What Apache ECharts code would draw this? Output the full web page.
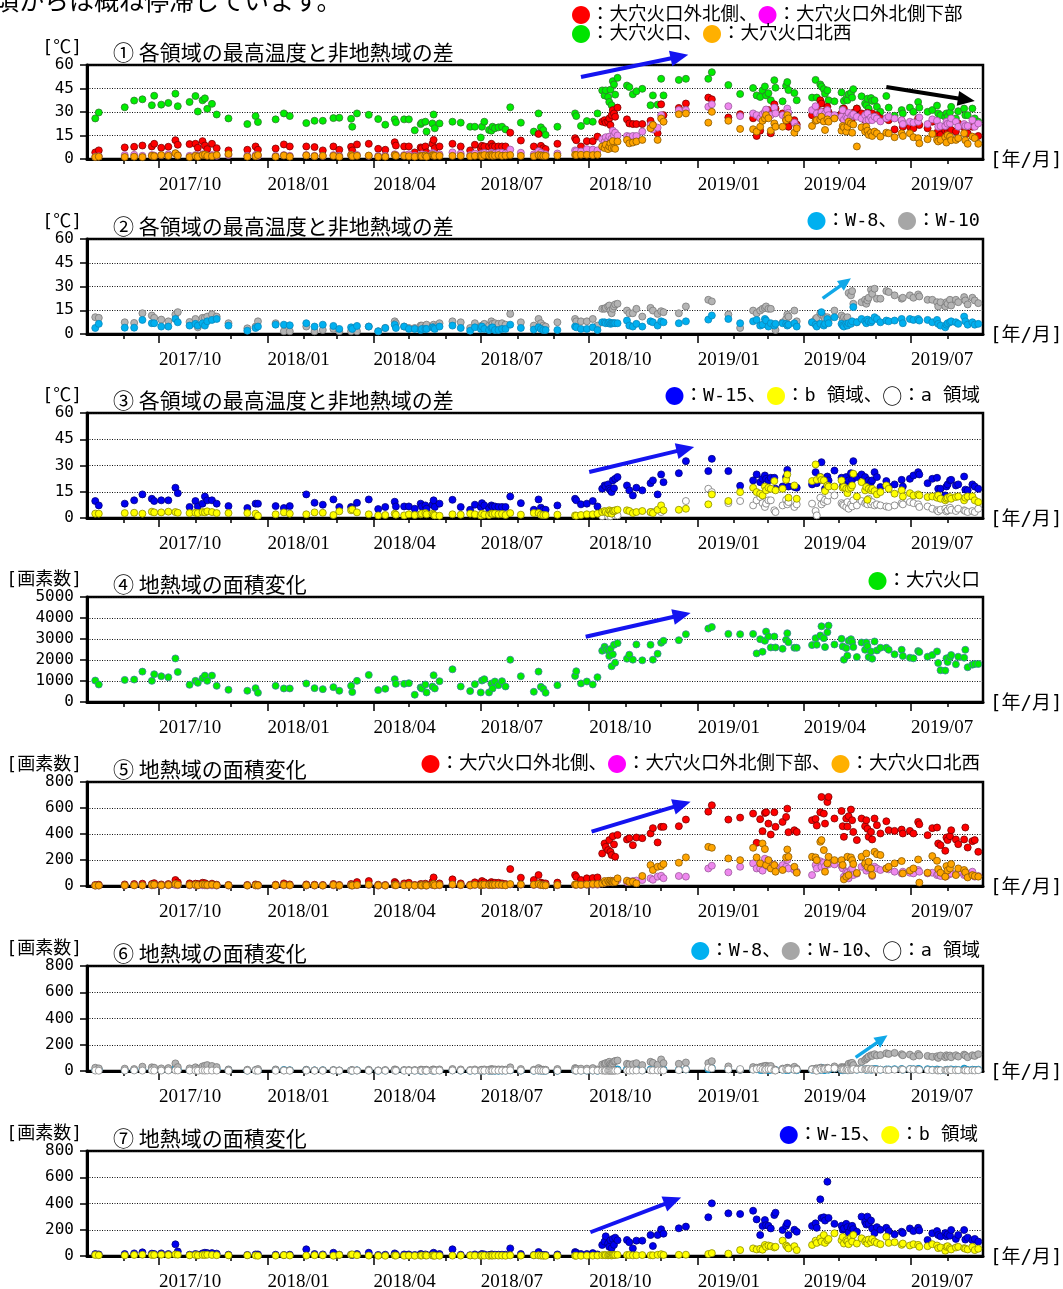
<!DOCTYPE html>
<html><head><meta charset="utf-8">
<script src="https://cdn.jsdelivr.net/npm/echarts@6/dist/echarts.min.js"></script>
<style>html,body{margin:0;padding:0;background:#fff}#c{width:1063px;height:1289px}</style>
</head><body><div id="c"></div>
<script>
const N = null;
// observation days, counted from 2017-08-01
const days = [7,10,32,40,47,55,57,63,69,75,
 77,87,92,94,98,100,102,106,110,120,
 136,143,145,160,167,172,186,193,200,209,
 214,224,225,229,239,247,253,261,262,269,
 273,278,283,284,287,288,293,294,295,299,
 310,317,325,329,334,335,337,341,343,344,
 346,349,352,355,359,368,379,383,385,387,
 389,399,414,415,419,424,429,433,437,439,
 440,442,443,444,445,446,447,448,450,458,
 460,463,466,471,478,480,484,487,489,502,
 508,527,530,544,554,565,568,571,573,575,
 576,578,580,583,584,590,593,594,595,600,
 602,615,618,619,622,623,625,626,628,629,
 634,640,641,642,644,645,646,648,649,650,
 653,657,660,661,662,663,665,666,668,670,
 673,678,680,685,691,692,698,701,705,706,
 713,717,721,722,724,728,729,730,732,733,
 737,739,744,745,747,751,753,756];

// ① temperature difference [℃]
const tempRed = [4.2,5.5,7.4,7.8,8.6,8,9.7,7.2,7.8,12,
 9.1,9.5,9.7,7.2,11.4,8.6,6.3,9.7,6.9,5.5,
 5.9,8,5.9,6.7,9.3,8,8,7.6,5.5,8,
 5.9,7.8,5.5,9.3,9.7,6.5,5.9,10.7,8.6,8,
 8,4.2,7.4,6.9,8,4.2,9.7,12.2,6.9,8,
 9.7,8,5.5,9.1,6.9,8.4,8,8,9.7,8,
 8,8,8,8,16.8,11.8,8,16,8.4,6.9,
 6.3,9.7,13.3,12,8,11.4,11.4,14.3,23.8,24.8,
 23.2,23.8,25.9,21.7,28,31.2,29.1,27,32.8,25.3,
 22.7,22.3,22.3,22.3,24.4,21.7,16.4,34.9,28,32.6,
 35.4,39.2,38.1,26.5,28.6,26,14.7,18.1,27,28,
 30,31.2,16.4,34.9,32.2,29.1,25,22.3,20.6,24.8,
 22,28,30.1,32.6,37.5,35.4,30.1,28,33.3,30,
 26.5,29.1,25.9,32.2,28,29.1,27,28,26,29.5,
 32.2,29.1,24.8,27,29.5,25,26.9,29.1,27,28,
 25.9,25.9,24.8,18.9,24.4,20.6,20.6,19.6,25.9,21.7,
 19.6,23.8,16.4,18,15.4,18.1,20.6,17,19,18.5,
 17.5,22.7,20.6,19,16.4,20.6,21.1,14.7];
const tempPink = [1.5,1.7,2.5,2.7,2,2.5,2.2,2.5,3,3.5,
 2.5,2,2.5,2,3,2.7,2.2,2.5,2,2.5,
 2,2.5,2,2,2.5,2,2.5,2,2,2.5,
 2,2.5,2,2.5,2,2,2,3,2.5,2.5,
 3,2,2.5,3,2.5,2,3.8,3.5,2.5,3,
 4.2,3.5,2.5,3.5,2.5,3.5,3.8,3,4,3.5,
 3.5,4,4,3.5,6,4,3,5,4,3,
 3,3.5,5.5,5,4.8,6.3,6,5.5,12.6,11,
 13.9,12,14.3,11,13,18.1,15,16.8,15,14.7,
 14.3,14.7,14.7,17.5,21.7,18.9,20,28,24,31.2,
 31.2,33.3,34.9,33.7,27.4,29.1,28,26,28.6,30,
 31.6,27,28,32.8,29.1,28,27,32.2,29.5,23.2,
 20.6,31.2,33.7,29.1,28,30,26.5,29,31.2,28,
 28,27,31.2,25,27,26,29.5,27,28,28.6,
 27,25.9,28,24.4,29.1,24.8,26.5,24.8,27,25.9,
 24,26,27,25.9,24.8,22.3,23.8,23.2,23.8,26.5,
 22.3,25.3,24.4,20.6,21,21.1,23.8,22.5,22.7,25.9,
 23.8,20.6,22.3,21,21.1,24.8,20.6,22.7];
const tempGreen = [25.9,29.7,33,37.3,38.1,34.3,40.4,34.7,35.8,41.7,
 33.7,36.4,40.2,30.3,37.5,38.7,32,35.2,28.4,25.9,
 22.3,27.4,23.6,25.3,29.1,27.4,22.9,24.4,24.4,26.1,
 26.3,25.7,20.6,29.1,28.2,25.5,21.9,25.3,23.4,25.3,
 25.3,18.3,22.3,23.2,23.8,17.5,22.7,28.4,19.6,22.7,
 23.8,23.2,20.6,20.6,13.7,20.6,23.8,18.5,18.1,20.6,
 19.6,20.2,20.6,18.9,33,23.2,17.5,29.1,20.2,18.5,
 15.4,20.6,29.1,27.4,21.1,24.2,23.8,29.1,43.8,40.6,
 43.8,39.6,36.4,44.2,34.3,49.7,47.6,41.1,51.8,46.9,
 45.9,41.3,43.2,44.8,34.3,40.6,34.7,51.2,40.6,50.5,
 51.2,51.2,55.4,47.2,41.5,45.3,40.6,39.6,43.8,46.3,
 40.6,42,37.5,50.3,45.5,36.8,46.7,49.1,44,42.1,
 37.5,39.2,50.5,39.2,47.6,46.3,44.6,41.7,43.8,37.5,
 36.8,42.5,32.2,37.1,38.5,37.5,41.3,42.1,39.2,44.6,
 32.2,40,35.4,34.3,38.5,32.2,38.9,37.1,37.5,33.3,
 30.1,40.2,32.8,27.6,31.2,29.1,32.8,30.1,36.4,32.8,
 30.1,31.2,34.1,29.1,28,26.9,29.1,27,29.7,33.3,
 25.9,30.5,32.2,28,28,32.2,25.9,23.8];
const tempOrange = [1.2,1.5,1.3,1.5,1.2,2,1.8,2.5,2,3.7,
 2.2,1.2,2,1.5,2.5,2.8,2,1.8,2.5,3.2,
 1.5,1.8,2.5,1.5,2.2,1.5,2.3,1.8,2,2,
 1.5,2.5,1.8,2,2.2,1.5,1.5,2.5,2,2,
 1.8,1.5,2,1.8,2.2,1.5,2.5,2.2,2,2,
 2,2,1.8,2,2.2,1.8,2.5,2.2,2.5,2,
 2.2,2.5,2,2.2,2.5,2,1.8,2.5,2.2,2,
 2,2.3,2.7,2.5,2.7,2.7,2.5,2.7,8,7,
 9.1,6.3,8,10,7,11.4,7,6.5,11.2,12.2,
 10,10.5,11.2,12.2,19.6,21.7,12.2,25.9,23.8,28.6,
 29.1,23.2,30.1,24.4,19.2,19,17.5,20.6,24.4,25.9,
 28,26,18.1,22.7,20.6,20.6,24.8,28,25.9,16.8,
 19.6,21.1,24.4,24.8,25.3,27,24,18.5,25.3,23.8,
 25.9,18.1,21.1,20.2,17.5,20.6,23.8,22.7,16.8,22,
 8,20.2,17.5,20.6,18.1,15.4,16.8,14.7,17.5,16.4,
 14.3,16.8,16.4,13.9,16.4,14.7,16.4,13.9,13.3,10,
 12.6,16,12.2,11.2,12.2,13.9,10.5,15.2,14.3,12,
 12.2,13.3,16.4,12,9.7,14.3,13.3,9.7];

// ② temperature difference [℃]
const tempW8 = [3.8,6.4,4,4,8.9,6.8,6.8,4.7,4.7,9.5,
 7.4,5.3,6.4,5.3,6.8,5.3,8,8.9,9.5,5.3,
 2.1,3.8,4.7,5.9,5.9,5.5,6.8,4.7,5.9,5.1,
 3.2,4.2,3.2,5.1,4.7,1.7,3.8,5.9,3.8,4.7,
 3.2,3.2,2.5,3.2,3.2,3.2,4.2,3.8,3.2,4.7,
 5.3,3.8,2.1,4.2,3.2,4.7,3.2,2.5,3.8,4.2,
 2.5,2.5,3.2,3.2,5.9,3.8,2.8,4.2,3.2,2.5,
 2.5,2.5,4.7,4.2,3.2,3.2,4.2,2.5,7.4,7.4,
 6.8,6.8,7.4,6.4,6.8,6.8,6.8,6.8,6.8,8.5,
 5.3,4.7,6.4,4.7,8,7.4,5.3,8,7.4,6.8,
 8,9.1,11.7,9.5,6.8,8,8.9,5.3,5.9,9.5,
 8.5,4.7,6.8,5.3,6.4,6.8,6.4,5.3,5.9,6.8,
 4.7,7.4,5.9,4.7,6.4,13.8,5.3,6.4,9.5,6.8,
 10.6,6.4,5.3,4.7,6.4,5.3,6.8,6.4,8,17,
 7.4,9.5,8,6.8,9.1,8,7.4,8.5,10.6,9.5,
 7.4,8.5,8,8.5,9.5,6.8,9.5,8.9,9.5,8.5,
 8.9,7.4,8.9,6.4,5.3,4.2,5.9,6.8,7.4,8,
 7.4,6.4,11,8,5.9,7.4,5.9,6.4];
const tempW10 = [10.6,10.2,7.4,7,13.1,11.7,10.2,9.1,8,12.3,
 13.8,7.6,9.5,4.2,10.2,10.2,11,12.5,11,6.8,
 3.6,4.7,8,6.8,1.7,1.7,4.7,1.7,2.5,3.2,
 1.7,1.7,3.8,1.7,4.7,1.7,3.8,8,6.8,4.7,
 3.8,3.8,5.3,5.3,4.7,5.9,4.7,5.9,4.7,6.8,
 8,7.4,3.8,6.8,4.7,5.3,6.4,5.3,8,6.4,
 6.8,6.4,6.8,5.9,12.7,7.4,5.3,9.5,6.8,5.3,
 4.7,7.4,9.5,8,8,8,9.5,5.3,15.9,15.9,
 16.5,17.4,18,14.8,13.1,15.9,17.4,18.7,19.1,14.8,
 13.1,13.1,15.9,11,16.5,14.8,12.7,14.4,13.8,13.1,
 17.4,21.6,20.6,12.3,3.8,14.8,13.1,14.8,15.9,16.5,
 17.4,15.9,15.9,5.3,2.5,7.4,9.5,12.3,11,14.8,
 8,7.4,9.5,10.2,13.1,12.3,11,9.5,10.6,8.5,
 14.8,11.7,9,10.6,9.5,10.6,25.9,24.4,27.1,19.1,
 7.4,20.1,21.6,19.1,21.2,22.9,28,25.4,28.6,22.3,
 22.3,27.1,26.5,24.4,22.3,22.9,24.4,22.9,25,23.7,
 21.6,21.6,20.1,17.4,20.1,17.4,20.1,19.1,21.6,18,
 21.6,20.1,23.3,21.2,18.7,22.9,21.2,19.5];

// ③ temperature difference [℃]
const tempW15 = [9.7,7.2,8.2,10.1,13.5,11,9.7,10.1,10.1,17.3,
 14.2,6.3,9.7,6.6,8.2,12.3,10.1,10.1,8.2,6.8,
 5.7,8.2,8.2,6.8,5.7,6.8,13.5,8.7,7.6,10.6,
 6.3,6.3,5.7,8.7,10.6,5.1,6.3,9.3,6.6,6.6,
 6.6,5.3,8.2,6.6,7.2,5.3,7.6,10.1,6.3,8.2,
 10.4,6.3,4.7,7.6,6.3,8.5,7.2,5.3,7.2,6.6,
 6.6,6.3,6.3,6.3,12.3,8.5,4.7,10.6,5.9,4.7,
 4.7,7.2,11,10.1,7.8,8.2,9.7,6.6,16.7,18.6,
 18,19.2,16.7,15.8,14.8,21.5,17,22.4,23.4,18.6,
 15.8,12.9,17.3,15.8,19.9,21.5,13.5,24.9,20.5,25.6,
 32.5,26.8,33.8,26.8,18.4,21.5,24.9,20.5,22.4,24.3,
 22.4,21.5,23,23,16.7,18,23.4,27.5,18,17.7,
 17.3,19.2,26.2,19.9,23.4,31.9,21.5,16.7,23.7,21.5,
 27.1,23,18,21.5,23.4,19.6,21.5,25.6,21.8,32.5,
 23.4,24.9,23.4,20.5,19.6,21.5,20.5,21.5,26.2,23.4,
 17.7,21.1,18,19.2,21.8,18,22.4,24.3,26.2,24.9,
 19.9,22.4,23,16.7,16.7,12.9,18,19.2,21.5,21.8,
 18.6,19.2,23.7,16.2,15.8,19.2,18,16.7];
const tempB = [2.5,2.5,2.8,3,2.5,3.6,3.2,3.2,3.6,3.4,
 3,2.8,3,2.8,3.4,3.2,3.8,3.4,2.8,2.8,
 2.8,2.5,1.3,2.1,3.2,2.5,2.1,3.2,3,1.7,
 3.8,4.4,4.9,3.2,2.1,1.5,1.7,2.5,1.9,1.5,
 2.1,1.7,2.1,2.5,2.8,2.1,2.5,1.9,1.5,1.3,
 2.1,1.9,2.5,2.1,1.5,2.5,1.9,1.7,2.5,2.3,
 2.5,2.1,2.3,1.7,2.8,1.9,2.8,2.8,1.9,1.7,
 1.7,1.9,1.5,1.3,1.7,2.1,2.1,2.5,3.4,4,
 3.4,2.8,4.4,3.8,2.5,4,3.8,4.4,4.7,4.4,
 4,2.8,3.4,4,3.4,2.8,4.7,7.2,4.4,4.7,
 5.3,7.8,13.5,9.7,14.8,17.3,14.8,13.9,12.9,18,
 15.8,17.3,16.7,21.1,15.8,16.7,21.8,24.9,11.6,18.6,
 11,21.1,30.6,21.8,23.4,21.8,21.5,15.4,18.6,18,
 18,21.5,17.3,17.7,16.7,14.2,16.7,17.3,18.6,25.3,
 12.3,20.5,15.8,17.7,10.4,16.7,15.8,16.7,15.4,13.5,
 14.8,18.6,16.7,13.9,15.8,12.3,14.2,12.9,13.5,12.9,
 12,12.3,11.6,12.9,11,10.1,11,11.6,12,11,
 12,12.3,10.1,11.6,12.3,12.3,10.1,9.1];
const tempA = [N,N,N,N,N,N,N,N,N,N,
 N,N,N,N,N,N,N,N,N,N,
 N,N,N,N,N,N,N,N,N,N,
 N,N,N,N,N,N,N,N,N,N,
 N,N,N,N,N,N,N,N,N,N,
 N,N,N,N,N,N,N,N,N,N,
 N,N,N,N,N,N,N,N,N,N,
 N,N,N,N,N,N,N,N,1,N,
 N,1,N,1,N,N,N,1.5,1.5,N,
 N,N,N,N,3.4,3.4,N,3.4,N,N,
 9.7,16.7,14.8,8.5,9.7,7.2,10.1,12,8.5,6.3,
 8.2,10.1,10.1,4.4,3.4,7.2,10.4,7.8,9.1,6.3,
 7.8,8.2,4,1.5,11.6,7.8,9.1,10.4,9.7,12.9,
 12.9,8.5,7.8,7.2,6.3,9.1,5.3,7.8,6.6,10.1,
 7.2,9.7,8.5,9.1,7.8,11,7.8,9.1,7.2,7.8,
 7.2,6.6,6.3,7.2,8.5,7.8,9.1,8.5,7.8,6.3,
 6.6,5.3,4.4,3.8,4.7,5.3,3.8,4.4,5.9,4.7,
 4,5.3,4.4,4,3.4,4,3.4,5.3];

// ④ area [pixels]
const areaGreen = [1022,833,1053,1069,1447,1006,1321,1226,1179,2075,
 1431,818,1006,912,1132,1258,1006,1258,770,582,
 535,660,440,770,645,645,880,660,613,707,
 535,770,472,1006,1289,566,629,1085,865,865,
 896,346,692,645,833,456,739,1274,645,991,
 1557,739,519,849,456,1022,1085,456,880,645,
 975,802,991,739,2013,1226,487,1447,724,630,
 441,803,1244,1465,882,976,835,1181,2441,2630,
 2504,2457,2189,2520,1700,2268,2724,1874,2803,2063,
 2252,2016,2740,1984,2724,2016,2299,2819,2913,2945,
 3228,3496,3574,3244,3228,3244,2315,2992,2394,2913,
 3354,3118,2598,3118,2598,2535,2961,3276,2850,2583,
 2583,2709,3039,2724,3165,3606,3039,2614,3323,3638,
 2740,3008,2646,2016,2567,2205,2913,2992,2850,2614,
 2142,2835,2488,2835,2661,2142,2409,2063,2882,2457,
 2583,2583,2488,2268,2488,2189,2110,2079,2425,2378,
 2157,2236,2409,1858,1512,1496,2079,1906,2126,2236,
 1795,2157,2110,2488,1654,1779,1811,1811];

// ⑤ area [pixels]
const areaRed = [8,10,12,15,18,15,22,12,15,46,
 28,20,18,15,25,22,12,18,10,8,
 8,12,8,10,20,12,12,10,8,15,
 8,15,8,30,38,10,8,31,20,20,
 25,8,15,12,18,8,33,66,12,20,
 51,20,10,28,15,38,28,18,30,20,
 25,25,20,15,130,64,46,84,26,20,
 20,26,84,70,46,59,61,66,250,327,
 301,276,353,263,238,383,320,225,393,358,
 368,314,373,368,404,445,335,455,455,460,
 511,572,621,511,526,557,332,514,422,562,
 567,480,396,567,455,493,531,595,414,429,
 416,506,516,465,567,685,557,480,646,685,
 519,577,460,378,519,457,537,588,506,416,
 353,519,460,506,440,378,416,358,519,468,
 404,498,429,424,434,404,424,404,493,475,
 391,445,450,327,314,271,373,353,383,429,
 358,322,358,450,296,345,353,263];
const areaPink = [3,3,4,5,4,5,6,4,5,8,
 6,5,5,4,6,5,4,5,3,3,
 3,4,3,3,5,4,4,3,3,5,
 3,5,3,6,8,3,3,6,5,5,
 6,3,5,4,5,3,8,10,4,6,
 10,6,4,8,5,8,8,6,8,6,
 7,8,6,5,12,10,8,12,6,5,
 5,6,10,9,8,9,10,10,20,25,
 30,28,32,35,30,40,38,35,45,30,
 35,38,42,46,59,48,72,79,60,77,
 72,135,156,105,148,174,135,135,118,210,
 161,150,168,161,148,161,148,200,135,123,
 110,84,161,135,190,148,180,150,174,168,
 166,153,135,72,110,102,59,123,135,84,
 95,148,161,118,174,135,135,77,148,135,
 123,135,128,110,97,110,102,97,123,110,
 97,102,84,90,77,72,77,85,92,97,
 92,102,84,90,97,110,72,77];
const areaOrange = [3,4,5,6,5,8,10,6,8,15,
 10,8,10,6,12,10,8,10,6,5,
 4,6,5,5,8,6,6,5,4,8,
 4,6,4,8,10,5,4,8,6,6,
 8,4,6,5,8,4,10,15,6,8,
 12,8,5,10,6,10,10,8,10,8,
 10,10,8,6,15,12,10,15,8,6,
 6,8,12,10,10,12,15,15,20,38,
 26,40,30,41,33,28,36,30,59,41,
 30,33,20,77,161,123,148,153,169,179,
 220,301,294,212,199,294,220,174,327,284,
 161,199,135,161,110,123,220,281,225,148,
 102,225,220,199,340,353,276,110,174,225,
 199,199,161,51,72,225,84,220,199,169,
 100,225,174,250,148,187,135,84,263,245,
 238,135,148,174,192,97,118,135,204,26,
 102,230,194,130,102,72,153,120,135,169,
 84,135,123,105,66,84,77,72];

// ⑥ area [pixels]
const areaW8 = [8,12,8,8,15,12,12,8,8,18,
 12,8,10,8,12,10,12,15,15,8,
 3,5,6,8,8,6,8,5,6,5,
 3,4,3,5,5,2,3,6,4,4,
 3,3,2,3,3,3,4,4,3,5,
 5,3,2,4,3,4,3,2,3,4,
 2,2,3,3,6,3,2,4,3,2,
 2,2,5,4,3,3,4,2,10,12,
 10,10,12,10,10,12,10,12,12,15,
 8,6,10,6,12,12,8,14,12,10,
 12,15,22,15,10,12,14,8,8,15,
 12,6,10,8,8,10,8,8,8,10,
 6,10,8,6,8,25,8,8,15,10,
 18,8,6,6,8,6,10,8,12,28,
 10,15,12,10,14,12,10,12,15,14,
 10,12,12,14,15,10,15,14,16,14,
 14,10,12,8,6,5,8,10,10,12,
 10,8,18,12,8,10,8,10];
const areaW10 = [25,20,18,15,33,28,25,20,22,58,
 30,20,28,15,35,40,45,38,30,12,
 10,8,15,12,5,5,10,5,6,8,
 5,5,8,5,10,5,8,12,10,8,
 8,8,10,10,8,10,10,12,8,12,
 15,12,8,12,8,10,12,10,15,12,
 12,12,12,10,28,15,10,22,12,10,
 10,15,22,18,18,18,22,12,50,55,
 60,65,70,55,48,58,72,76,80,55,
 50,52,60,45,70,62,48,88,60,55,
 65,60,75,35,8,30,25,30,35,38,
 40,35,38,12,5,18,20,25,22,32,
 18,15,18,20,25,22,20,20,25,18,
 35,30,25,28,30,35,55,60,62,45,
 20,70,85,95,100,110,120,115,128,118,
 122,135,130,138,128,120,125,110,130,118,
 115,108,112,100,118,105,120,112,118,105,
 120,110,125,118,105,120,115,128];
const areaA = [3,2,3,4,3,4,3,3,4,5,
 4,3,3,2,4,3,4,3,3,2,
 2,3,2,2,3,2,3,2,2,3,
 2,3,2,3,2,2,2,3,2,2,
 2,2,3,2,3,2,3,4,2,3,
 4,3,2,3,2,3,3,2,3,3,
 3,3,3,2,5,3,2,4,3,2,
 2,2,3,3,2,3,3,2,3,2,
 2,2,3,2,2,3,2,3,3,4,
 3,3,4,3,5,5,4,5,4,6,
 12,25,20,12,15,10,15,18,12,8,
 12,15,14,5,4,10,15,10,12,8,
 10,12,5,2,18,10,14,15,14,20,
 20,12,10,10,8,14,6,10,8,15,
 10,14,12,14,10,16,10,14,10,10,
 10,8,8,10,12,10,14,12,10,8,
 8,6,5,4,5,6,4,5,8,6,
 5,6,5,5,4,5,4,6];

// ⑦ area [pixels]
const areaW15 = [15,12,15,20,28,18,15,20,15,89,
 35,10,15,10,20,25,22,22,18,10,
 8,12,12,10,8,10,51,15,12,25,
 10,10,8,15,25,8,10,20,12,12,
 12,8,15,12,12,8,15,25,10,15,
 51,10,6,12,10,15,12,8,12,10,
 10,10,10,10,58,15,8,30,10,8,
 8,12,30,25,15,15,22,12,84,110,
 150,95,70,120,60,130,85,140,120,122,
 105,58,117,117,160,76,160,203,170,211,
 224,295,401,325,320,345,279,160,229,274,
 235,230,210,312,330,198,230,250,160,200,
 185,229,249,215,432,290,295,270,566,290,
 245,230,200,210,245,220,180,215,230,205,
 185,300,260,240,300,245,270,210,175,220,
 200,215,190,165,185,175,210,190,215,195,
 122,173,190,160,150,175,150,165,155,198,
 130,160,198,125,140,120,130,110];
const areaB = [8,6,5,8,10,8,8,10,8,12,
 10,5,8,5,8,8,10,8,6,5,
 5,4,2,3,6,4,3,6,5,2,
 8,10,12,6,3,2,2,4,3,2,
 3,2,3,4,5,3,4,3,2,2,
 3,3,4,3,2,4,3,2,4,3,
 4,3,3,2,5,3,5,5,3,2,
 2,3,2,2,2,3,3,4,6,8,
 6,5,8,7,4,8,7,8,9,8,
 7,5,6,7,6,5,9,14,8,9,
 10,15,22,18,45,58,50,55,48,84,
 70,80,75,65,70,117,80,70,58,75,
 45,84,117,100,135,110,160,100,120,130,
 173,120,145,95,120,110,90,140,110,160,
 95,135,110,120,95,125,105,130,110,100,
 90,147,100,105,85,95,80,90,85,70,
 75,90,80,60,65,40,70,75,60,50,
 65,70,60,55,50,70,45,55];

// axis ticks (month starts / labelled quarters)
const monthTicks = [];
for (let i = 1; i <= 25; i++) monthTicks.push(new Date(2017, 7 + i, 1).getTime());
const quarterTicks = ['2017-10','2018-01','2018-04','2018-07','2018-10','2019-01','2019-04','2019-07'];

const titles = ['① 各領域の最高温度と非地熱域の差','② 各領域の最高温度と非地熱域の差','③ 各領域の最高温度と非地熱域の差',
 '④ 地熱域の面積変化','⑤ 地熱域の面積変化','⑥ 地熱域の面積変化','⑦ 地熱域の面積変化'];
const units = ['[℃]','[℃]','[℃]','[画素数]','[画素数]','[画素数]','[画素数]'];
const yMax = [60,60,60,5000,800,800,800];
const yStep = [15,15,15,1000,200,200,200];

const JP = '"Noto Sans CJK JP","Noto Sans",sans-serif';
const MJ = '"DejaVu Sans Mono","Noto Sans CJK JP",monospace';
const SERIF = '"Liberation Serif","DejaVu Serif",serif';

const panels = [
 {top:65,h:94},{top:239,h:95},{top:413,h:105},{top:597,h:105},
 {top:782,h:104},{top:966,h:105},{top:1151,h:105}];

function t(d){ return new Date(2017, 7, 1 + d).getTime(); }
function qt(s){ const p = s.split('-'); return new Date(+p[0], +p[1]-1, 1).getTime(); }
const xMin = new Date(2017,7,1).getTime(), xMax = new Date(2019,7,31).getTime();
const qVals = quarterTicks.map(qt);

const grids = [], xAxes = [], yAxes = [], series = [];
panels.forEach((p, i) => {
  grids.push({left:87, width:896, top:p.top, height:p.h, show:true, borderColor:'#000', borderWidth:2.5,
    backgroundColor:'rgba(0,0,0,0)', containLabel:false, outerBoundsMode:'none'});
  xAxes.push({gridIndex:i, type:'value', min:xMin, max:xMax, position:'bottom', scale:true,
    axisLine:{show:true, onZero:false, lineStyle:{color:'#000', width:3}},
    axisTick:{show:true, customValues:monthTicks, length:5, lineStyle:{color:'#000', width:1.5}},
    axisLabel:{show:false}, splitLine:{show:false}});
  xAxes.push({gridIndex:i, type:'value', min:xMin, max:xMax, position:'bottom', scale:true,
    axisLine:{show:false, onZero:false},
    axisTick:{show:true, customValues:qVals, length:9, lineStyle:{color:'#000', width:1.5}},
    axisLabel:{show:true, customValues:qVals, align:'left', margin:17, color:'#000',
      fontFamily:SERIF, fontSize:19,
      formatter:v => { const d = new Date(v); return d.getFullYear() + '/' + String(d.getMonth()+1).padStart(2,'0'); }},
    splitLine:{show:false}});
  yAxes.push({gridIndex:i, type:'value', min:0, max:yMax[i], interval:yStep[i],
    axisLine:{show:true, lineStyle:{color:'#000', width:3}},
    axisTick:{show:true, length:7, lineStyle:{color:'#000', width:1.5}},
    axisLabel:{color:'#000', fontFamily:MJ, fontSize:16, margin:13, formatter:v => String(v)},
    splitLine:{show:true, lineStyle:{color:'#111', width:1, type:[1,1.5]}}});
});

function sc(g, vals, fill, border, name) {
  const data = [];
  days.forEach((d, k) => { if (vals[k] != null) data.push([t(d), vals[k]]); });
  return {type:'scatter', name, xAxisIndex:2*g, yAxisIndex:g, data, symbol:'circle', symbolSize:7,
    itemStyle:{color:fill, borderColor:border, borderWidth:0.8, opacity:1}, silent:true, animation:false, clip:false};
}
series.push(sc(0, tempGreen, '#00ee00', '#2d7a2d', '大穴火口'));
series.push(sc(0, tempRed, '#ff0000', '#7a0000', '大穴火口外北側'));
series.push(sc(0, tempPink, '#ee88ee', '#9a5a9a', '大穴火口外北側下部'));
series.push(sc(0, tempOrange, '#ffa500', '#8a5800', '大穴火口北西'));
series.push(sc(1, tempW10, '#b4b4b4', '#7a7a7a', 'W-10'));
series.push(sc(1, tempW8, '#00b0f0', '#0a88bb', 'W-8'));
series.push(sc(2, tempA, '#ffffff', '#777777', 'a 領域'));
series.push(sc(2, tempW15, '#0000f0', '#000080', 'W-15'));
series.push(sc(2, tempB, '#ffff00', '#8a8a00', 'b 領域'));
series.push(sc(3, areaGreen, '#00ee00', '#3c7fa0', '大穴火口'));
series.push(sc(4, areaRed, '#ff0000', '#7a0000', '大穴火口外北側'));
series.push(sc(4, areaPink, '#ee88ee', '#9a5a9a', '大穴火口外北側下部'));
series.push(sc(4, areaOrange, '#ffa500', '#8a5800', '大穴火口北西'));
series.push(sc(5, areaW8, '#00b0f0', '#0a88bb', 'W-8'));
series.push(sc(5, areaW10, '#b4b4b4', '#7a7a7a', 'W-10'));
series.push(sc(5, areaA, '#ffffff', '#888888', 'a 領域'));
series.push(sc(6, areaW15, '#0000f0', '#000080', 'W-15'));
series.push(sc(6, areaB, '#ffff00', '#8a8a00', 'b 領域'));

const chart = echarts.init(document.getElementById('c'), null, {renderer:'canvas'});
chart.setOption({backgroundColor:'#fff', animation:false, grid:grids, xAxis:xAxes, yAxis:yAxes, series});

// annotations: arrows in data coordinates [day, value]
const arrows = [
 {g:0, from:[419,52.3], to:[510,66.5], color:'#1414f0', w:4, hl:18, hw:8},
 {g:0, from:[678,46], to:[753,37], color:'#000000', w:4, hl:17, hw:7.5},
 {g:1, from:[624,22.5], to:[648,35.2], color:'#10a8e8', w:3.5, hl:13, hw:6},
 {g:2, from:[426,26.3], to:[515,40.6], color:'#1414f0', w:4, hl:18, hw:8},
 {g:3, from:[423,3110], to:[512,4238], color:'#1414f0', w:4, hl:18, hw:8},
 {g:4, from:[428,418], to:[512,648], color:'#1414f0', w:4, hl:18, hw:8},
 {g:5, from:[652,104], to:[679,272], color:'#10a8e8', w:3.5, hl:13, hw:6},
 {g:6, from:[427,181], to:[504,445], color:'#1414f0', w:4, hl:18, hw:8}
];
const graphics = [];
arrows.forEach(a => {
  const p1 = chart.convertToPixel({gridIndex:a.g}, [t(a.from[0]), a.from[1]]);
  const p2 = chart.convertToPixel({gridIndex:a.g}, [t(a.to[0]), a.to[1]]);
  if (!p1 || !p2) return;
  const dx = p2[0]-p1[0], dy = p2[1]-p1[1], L = Math.hypot(dx, dy), ux = dx/L, uy = dy/L;
  const bx = p2[0]-ux*a.hl, by = p2[1]-uy*a.hl;
  graphics.push({type:'line', z:100, shape:{x1:p1[0], y1:p1[1], x2:bx+ux*2, y2:by+uy*2}, style:{stroke:a.color, lineWidth:a.w}});
  graphics.push({type:'polygon', z:100, shape:{points:[[p2[0],p2[1]],[bx-uy*a.hw, by+ux*a.hw],[bx+uy*a.hw, by-ux*a.hw]]}, style:{fill:a.color}});
});

function txt(x, y, text, size, font, align, extra) {
  return {type:'text', x, y, z:110, style:Object.assign({text, fontSize:size, fontFamily:font, fill:'#000',
    align:align, verticalAlign:'middle'}, extra || {})};
}
panels.forEach((p, i) => {
  graphics.push(txt(113, p.top-13, titles[i], 21, JP, 'left'));
  graphics.push(txt(82, p.top-17, units[i], 18, MJ, 'right'));
  graphics.push(txt(990, p.top+p.h+2, '[年/月]', 19, MJ, 'left'));
});
const dot = c => ({fill:c, fontFamily:JP, fontSize:20});
const rich = {r:dot('#ff0000'), m:dot('#ff00ff'), g:dot('#00e400'), o:dot('#ffb000'), c:dot('#00b0f0'),
  k:dot('#a6a6a6'), b:dot('#0000ff'), y:dot('#ffff00'), w:dot('#000000')};
const legends = [
 [571, 15, 'left', '{r|●}：大穴火口外北側、{m|●}：大穴火口外北側下部'],
 [571, 34, 'left', '{g|●}：大穴火口、{o|●}：大穴火口北西'],
 [980, 221, 'right', '{c|●}：W-8、{k|●}：W-10'],
 [980, 396, 'right', '{b|●}：W-15、{y|●}：b 領域、{w|○}：a 領域'],
 [980, 581, 'right', '{g|●}：大穴火口'],
 [980, 764, 'right', '{r|●}：大穴火口外北側、{m|●}：大穴火口外北側下部、{o|●}：大穴火口北西'],
 [980, 951, 'right', '{c|●}：W-8、{k|●}：W-10、{w|○}：a 領域'],
 [978, 1135, 'right', '{b|●}：W-15、{y|●}：b 領域']
];
legends.forEach(l => graphics.push(txt(l[0], l[1], l[3], 18.5, MJ, l[2], {rich})));
graphics.push(txt(-6, 0, '頃からは概ね停滞しています。', 25, JP, 'left'));

chart.setOption({graphic:graphics});
</script>
</body></html>
